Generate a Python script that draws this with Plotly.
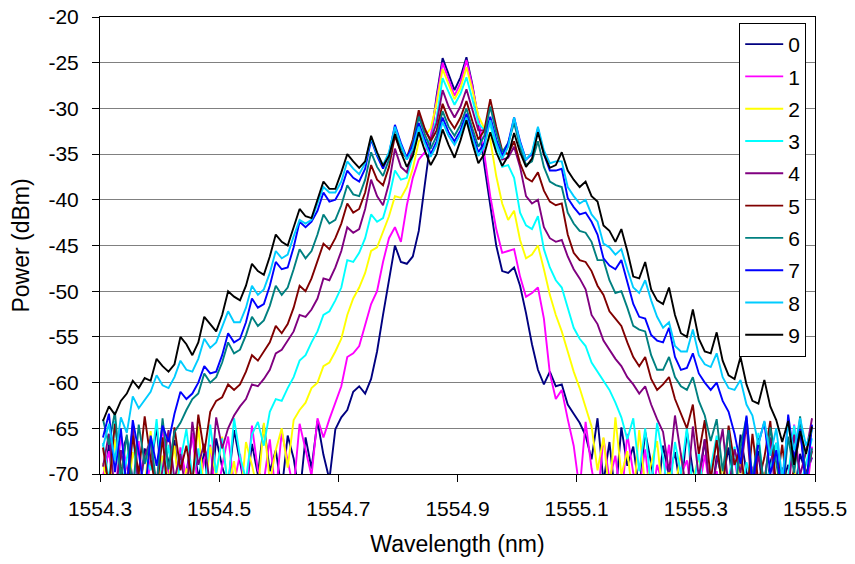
import plotly.graph_objects as go

# Optical spectra of the ten traces, sampled every 0.01 nm from 1554.305 nm
WL_START = 1554.305
WL_STEP = 0.01
N_PTS = 120
wavelength = [round(WL_START + WL_STEP * i, 3) for i in range(N_PTS)]

series_names = ["0", "1", "2", "3", "4", "5", "6", "7", "8", "9"]

power_0 = [
    -71.5, -66.8, -72.4, -68.1, -65.9, -70.8, -73.0, -67.2, -69.5, -64.8,
    -71.9, -68.6, -66.3, -72.7, -69.9, -65.6, -70.4, -67.7, -73.2, -66.1,
    -69.2, -71.3, -65.2, -68.9, -72.1, -66.7, -70.1, -64.6, -69.7, -67.4,
    -71.8, -65.8, -68.3, -72.5, -66.0, -69.4, -64.2, -67.9, -70.6, -65.1,
    -63.8,
    -63.0, -61.0, -60.4, -61.2, -59.6, -56.6, -52.6, -48.8, -45.0, -46.8,
    -47.0, -46.2, -43.4, -38.4, -33.2, -28.6, -24.5, -26.2, -28.0, -26.6,
    -24.4, -27.4, -31.4, -36.2, -40.6, -45.0, -47.8, -48.0, -47.4, -49.4,
    -52.4, -55.8, -58.6, -60.2, -58.8, -60.4, -60.2, -62.4, -63.4, -64.4,
    -65.8, -68.4, -63.9, -70.9, -66.5, -72.6, -64.9, -69.1, -67.0, -71.7,
    -65.4, -68.8, -73.1, -66.9, -70.3, -67.6, -72.0, -65.3, -69.6, -71.2,
    -66.2, -73.4, -68.0, -70.7, -67.1, -72.9, -65.7, -69.8, -71.4, -67.5,
    -73.3, -68.7, -66.6, -71.0, -69.0, -72.3, -67.8, -70.0, -68.2,
]

power_1 = [
    -70.2, -67.5, -72.8, -65.7, -69.3, -71.6, -66.4, -73.5, -68.2, -70.9,
    -64.9, -69.8, -72.2, -67.1, -70.5, -65.5, -71.9, -68.4, -66.8, -73.0,
    -69.1, -65.9, -71.1, -67.8, -72.6, -64.7, -69.6, -70.8, -66.2, -72.3,
    -65.4, -68.7, -71.7, -64.5, -67.3, -70.2, -63.9, -66.0,
    -64.0, -62.2, -60.4, -57.2, -56.8, -56.0, -53.6, -51.4, -50.0, -46.8,
    -44.2, -43.0, -44.6, -40.6, -37.6, -35.6, -34.8, -33.2, -29.0, -25.0,
    -26.8, -28.6, -27.2, -24.7, -27.6, -31.0, -35.0, -39.6, -43.2, -45.8,
    -45.6, -45.4, -48.4, -50.6, -50.2, -49.6, -53.0, -59.0, -61.8, -60.8,
    -64.0,
    -66.9, -71.8, -64.3, -69.4, -72.9, -66.1, -70.6, -68.0, -73.2, -65.6,
    -69.9, -71.5, -67.3, -73.4, -69.0, -71.2, -66.8, -72.7, -70.1, -68.5,
    -73.0, -71.9, -67.9, -72.2, -69.7, -73.3, -70.4, -68.3, -72.5, -71.1,
    -69.2, -73.1, -70.7, -66.3, -72.0, -69.5, -71.6, -64.6, -70.3, -72.8,
    -67.0,
]

power_2 = [
    -68.8, -72.1, -66.2, -70.4, -73.3, -67.6, -69.9, -71.4, -65.3, -72.6,
    -68.0, -70.7, -66.9, -73.1, -69.4, -71.0, -64.8, -72.3, -67.0, -70.2,
    -65.9, -71.8, -68.6, -73.4, -66.5, -69.0, -72.0, -64.4, -70.9, -67.4,
    -65.0, -69.3, -64.1,
    -63.0, -62.2, -60.6, -60.0, -58.2, -57.8, -56.6, -55.2, -52.6, -50.8,
    -49.6, -48.0, -45.6, -45.2, -43.6, -41.8, -39.6, -39.8, -38.6, -36.6,
    -33.6, -33.0, -32.2, -29.4, -25.7, -27.4, -29.0, -27.8, -25.5, -28.0,
    -30.8, -32.2, -33.4, -37.4, -40.4, -42.2, -41.2, -44.4, -46.4, -46.0,
    -45.0, -47.6, -50.4, -52.6, -54.4, -56.6, -58.8, -60.6, -62.6,
    -64.8, -69.6, -66.0, -72.4, -63.8, -70.1, -67.5, -73.0, -65.2, -71.3,
    -68.9, -66.4, -72.8, -69.5, -71.7, -67.7, -73.2, -70.5, -68.1, -72.1,
    -70.9, -73.4, -69.1, -71.5, -72.7, -68.4, -73.1, -70.6, -71.9, -69.8,
    -72.9, -70.0, -71.4, -73.3, -69.6, -72.2, -70.8, -71.0,
]

power_3 = [
    -66.6, -70.7, -64.2, -71.9, -68.3, -65.4, -72.5, -67.9, -69.6, -64.0,
    -71.2, -66.8, -73.0, -68.5, -65.1, -70.3, -67.2, -72.8, -64.6, -69.9,
    -66.1, -71.5, -63.9, -68.1, -70.6, -65.7, -64.3, -66.9,
    -63.2, -61.8, -62.0, -60.6, -59.4, -57.6, -57.0, -55.6, -54.4, -52.6,
    -52.2, -51.0, -49.6, -46.6, -46.8, -45.8, -44.2, -41.6, -42.4, -42.0,
    -39.8, -36.8, -37.8, -37.6, -35.2, -32.4, -33.4, -33.6, -31.0, -26.7,
    -28.2, -29.6, -28.4, -26.6, -29.0, -31.6, -32.4, -31.8, -34.4, -36.4,
    -36.2, -37.6, -41.4, -42.8, -43.2, -41.8, -45.4, -47.4, -48.8, -49.6,
    -51.8, -54.0, -55.2, -56.0, -57.8, -58.8, -59.8, -60.8, -62.2, -63.8,
    -66.2, -63.9, -69.7, -65.0, -71.6, -64.4, -68.2, -72.7, -66.5, -70.0,
    -64.9, -71.8, -67.6, -73.1, -69.3, -65.8, -72.4, -70.5, -67.0, -73.3,
    -68.7, -71.2, -65.5, -72.0, -69.4, -66.6, -73.0, -70.2, -64.7, -71.4,
    -68.9, -66.1,
]

power_4 = [
    -69.2, -65.6, -72.3, -67.4, -70.9, -64.7, -71.7, -68.0, -66.3, -73.1,
    -69.5, -65.2, -70.6, -67.8, -72.4, -64.3, -69.0, -66.7, -71.3, -63.8,
    -67.2, -65.0,
    -63.6, -62.6, -61.8, -60.2, -60.4, -59.6, -58.6, -56.8, -56.4, -55.4,
    -54.4, -52.6, -52.8, -52.0, -50.8, -48.6, -48.8, -47.4, -45.6, -43.0,
    -43.6, -43.2, -41.0, -37.8, -39.6, -40.6, -38.2, -34.4, -36.4, -37.0,
    -34.4, -30.6, -32.4, -33.4, -31.6, -28.0, -29.8, -31.0, -29.8, -27.9,
    -30.2, -32.4, -32.4, -31.2, -33.6, -35.6, -35.4, -34.2, -36.4, -39.6,
    -40.4, -40.0, -43.0, -44.2, -44.6, -44.4, -46.2, -47.6, -48.6, -49.8,
    -52.6, -53.6, -55.4, -56.4, -57.4, -58.2, -59.4, -60.2, -61.2, -60.4,
    -62.4, -64.0,
    -65.4, -69.8, -63.6, -67.9, -72.2, -64.8, -70.4, -66.2, -73.0, -68.6,
    -65.1, -71.6, -67.3, -69.9, -64.5, -72.6, -68.0, -70.8, -66.0, -73.2,
    -69.3, -71.9, -65.7, -70.1, -67.6, -63.9,
]

power_5 = [
    -67.1, -71.4, -64.5, -69.2, -72.7, -65.8, -70.0, -63.7, -68.4, -71.8,
    -66.0, -72.9, -64.9, -69.6, -66.9, -71.0, -63.5, -67.7,
    -63.2, -62.0, -61.6, -60.2, -60.8, -60.2, -58.8, -57.0, -57.6, -56.6,
    -55.6, -53.8, -54.6, -53.6, -51.8, -49.4, -50.0, -48.6, -46.8, -44.8,
    -45.4, -44.2, -42.6, -40.4, -41.4, -41.0, -39.2, -36.2, -37.8, -38.4,
    -36.4, -33.0, -34.8, -35.4, -33.4, -30.2, -32.2, -33.6, -32.4, -29.5,
    -31.2, -32.2, -31.0, -29.2, -31.4, -33.4, -32.4, -29.0, -32.0, -34.6,
    -35.0, -33.6, -36.0, -37.6, -38.0, -37.0, -39.0, -40.2, -40.6, -40.4,
    -43.8, -45.8, -46.6, -46.8, -47.8, -49.4, -50.4, -52.2, -53.0, -53.8,
    -55.6, -57.2, -58.2, -57.2, -59.6, -60.8, -60.2, -59.4, -61.8, -63.4,
    -65.0, -62.4, -67.8, -64.1, -70.6, -66.3, -72.1, -64.7, -69.0, -67.1,
    -73.0, -65.6, -70.9, -68.2, -64.2, -71.5, -66.8, -72.4, -69.4, -65.3,
    -70.2, -67.5,
]

power_6 = [
    -64.0, -66.8, -63.2, -70.5, -65.7, -72.0, -64.6, -68.9, -66.2, -71.3,
    -63.9, -69.5, -65.4, -64.4,
    -63.0, -61.8, -61.2, -59.0, -60.0, -59.4, -57.8, -55.6, -56.8, -56.4,
    -54.8, -52.8, -53.8, -53.2, -51.6, -49.4, -50.4, -49.6, -47.6, -45.4,
    -46.4, -45.6, -43.8, -41.6, -42.6, -42.2, -40.6, -38.4, -39.4, -39.6,
    -37.8, -34.8, -36.4, -37.4, -35.6, -32.2, -34.2, -35.6, -33.8, -30.9,
    -32.8, -34.4, -33.0, -30.3, -32.0, -33.0, -31.8, -30.0, -32.2, -34.2,
    -33.0, -29.8, -32.6, -34.8, -33.8, -31.6, -34.2, -36.2, -35.8, -33.6,
    -36.4, -38.0, -38.4, -38.6, -41.4, -42.6, -43.4, -43.6, -44.6, -46.6,
    -46.6, -48.8, -50.2, -50.0, -51.8, -53.8, -54.2, -54.4, -57.0, -58.6,
    -58.6, -57.2, -59.4, -60.4, -60.8, -59.4, -62.0, -63.6,
    -66.4, -64.0, -69.7, -65.2, -72.3, -67.0, -63.8, -70.5, -66.1, -71.8,
    -64.9, -68.6, -72.7, -65.9, -69.9, -63.7, -70.7, -67.2,
]

power_7 = [
    -66.0, -63.4, -69.8, -65.0, -71.7, -64.1, -67.6, -72.4, -65.8, -69.1,
    -64.7, -66.5,
    -63.4, -61.0, -61.8, -61.2, -60.0, -58.2, -59.0, -58.8, -57.0, -54.6,
    -55.6, -55.2, -53.4, -50.8, -51.8, -51.4, -49.4, -46.8, -47.6, -47.4,
    -45.2, -42.4, -43.0, -42.4, -41.2, -39.2, -40.2, -40.0, -38.8, -36.8,
    -37.6, -38.0, -36.6, -33.4, -35.2, -36.6, -35.0, -31.8, -33.8, -35.4,
    -34.0, -31.6, -33.4, -35.0, -33.6, -31.0, -32.6, -33.6, -32.4, -30.6,
    -32.8, -34.8, -33.8, -30.9, -33.4, -35.2, -33.8, -31.0, -33.6, -35.6,
    -35.0, -32.2, -35.0, -36.8, -36.8, -36.6, -39.8, -40.8, -41.6, -41.4,
    -42.4, -43.8, -46.4, -47.2, -47.6, -46.6, -49.0, -51.4, -52.8, -53.0,
    -54.8, -55.4, -55.6, -54.0, -57.2, -58.6, -58.4, -56.8, -59.0, -60.0,
    -60.8, -60.0, -62.0, -63.2,
    -65.6, -68.9, -63.6, -71.2, -66.7, -64.3, -70.0, -67.4, -72.5, -63.5,
    -68.3, -65.1, -71.4, -64.6,
]

power_8 = [
    -67.0, -64.5, -68.5, -63.8, -65.5,
    -61.5, -62.8, -61.9, -61.0, -59.2, -60.3, -60.6, -59.4, -57.6, -58.6,
    -58.8, -57.4, -55.2, -56.2, -55.6, -54.0, -52.2, -53.4, -53.4, -51.8,
    -49.4, -50.4, -49.8, -48.0, -45.6, -46.4, -46.0, -44.0, -42.2, -42.6,
    -42.2, -40.4, -38.6, -39.2, -39.2, -38.0, -35.8, -36.6, -37.2, -36.0,
    -33.2, -35.0, -36.2, -34.8, -32.0, -34.0, -35.6, -34.4, -32.0, -33.8,
    -35.3, -34.0, -31.5, -33.0, -34.0, -32.8, -31.0, -33.2, -35.2, -34.2,
    -31.3, -33.8, -35.5, -34.2, -31.0, -33.8, -35.6, -34.8, -32.0, -34.6,
    -36.0, -35.8, -35.8, -38.6, -39.6, -40.4, -40.0, -41.6, -42.4, -44.8,
    -45.2, -46.0, -45.4, -47.6, -49.6, -50.2, -48.8, -51.0, -52.8, -54.0,
    -53.4, -56.0, -56.6, -56.6, -54.2, -57.0, -58.0, -58.3, -56.8, -59.4,
    -60.6, -60.8, -59.7, -62.4, -63.6,
    -66.8, -64.2, -68.0, -65.0, -70.5, -64.6, -67.4, -63.9, -66.9, -65.2,
]

power_9 = [
    -64.2, -62.6, -63.5, -62.0, -61.2, -59.8, -60.6, -59.5, -59.8, -57.4,
    -58.2, -58.8, -58.0, -55.0, -55.8, -57.0, -55.6, -52.8, -53.6, -54.4,
    -52.6, -50.0, -50.6, -51.0, -49.4, -47.0, -47.8, -48.2, -46.2, -43.8,
    -44.6, -45.0, -43.0, -41.0, -41.8, -42.0, -40.0, -38.0, -38.8, -38.8,
    -37.0, -35.0, -35.8, -36.5, -35.8, -33.0, -34.8, -36.3, -35.2, -32.8,
    -34.8, -36.4, -35.2, -32.6, -34.6, -36.2, -35.0, -32.3, -34.0, -35.4,
    -33.5, -31.3, -33.8, -36.0, -35.0, -32.6, -34.8, -36.3, -35.2, -32.7,
    -34.8, -36.4, -35.5, -32.6, -35.0, -36.5, -36.2, -34.8, -36.8, -37.8,
    -38.6, -38.0, -39.6, -40.2, -42.8, -43.4, -44.6, -43.2, -45.6, -48.4,
    -48.6, -46.8, -49.8, -51.0, -51.4, -49.6, -52.6, -54.6, -55.0, -52.0,
    -55.2, -56.6, -56.8, -54.5, -57.6, -59.2, -59.6, -57.2, -60.2, -62.0,
    -62.3, -59.7, -62.6, -64.1,
    -66.5, -64.2, -69.0, -65.3, -67.8, -64.8,
]

all_power = [power_0, power_1, power_2, power_3, power_4,
             power_5, power_6, power_7, power_8, power_9]

line_colors = ["#000080", "#FF00FF", "#FFFF00", "#00FFFF", "#800080",
               "#800000", "#008080", "#0000FF", "#00CCFF", "#000000"]

x_ticks = [1554.3, 1554.5, 1554.7, 1554.9, 1555.1, 1555.3, 1555.5]
y_ticks = [-70, -65, -60, -55, -50, -45, -40, -35, -30, -25, -20]

for name, p in zip(series_names, all_power):
    if len(p) != N_PTS:
        raise ValueError(f"series {name}: {len(p)} points")

FONT = "Liberation Sans, Arial, sans-serif"

fig = go.Figure()
for name, p, c in zip(series_names, all_power, line_colors):
    fig.add_trace(go.Scatter(
        x=wavelength, y=p, mode="lines", name=name, legendgroup=name,
        line=dict(color=c, width=1.9),
    ))

fig.update_layout(
    width=855, height=564,
    margin=dict(l=100, r=40, t=17, b=90),
    paper_bgcolor="white", plot_bgcolor="white",
    font=dict(family=FONT, size=19, color="black"),
    legend=dict(
        x=0.894, y=0.987, xanchor="left", yanchor="top",
        bgcolor="white", bordercolor="black", borderwidth=1,
        font=dict(size=21), tracegroupgap=2, itemwidth=38,
    ),
    showlegend=True,
)
fig.update_xaxes(
    range=[1554.3, 1555.5], tickvals=x_ticks,
    ticktext=[f"{v:.1f}" for v in x_ticks], tickfont=dict(size=21),
    showgrid=False, showline=True, linecolor="black", linewidth=1,
    mirror=True, ticks="outside", ticklen=7, tickcolor="black",
    ticklabelstandoff=9, automargin=False,
    title=dict(text="Wavelength (nm)", standoff=16), zeroline=False,
)
fig.update_yaxes(
    range=[-70, -20], tickvals=y_ticks,
    ticktext=[str(v) for v in y_ticks], tickfont=dict(size=21),
    showgrid=True, gridcolor="#808080", gridwidth=1,
    showline=True, linecolor="black", linewidth=1, mirror=True,
    ticks="outside", ticklen=7, tickcolor="black",
    ticklabelstandoff=9, automargin=False,
    title=dict(text="Power (dBm)", standoff=12), zeroline=False,
)

fig.write_html("out.html")
